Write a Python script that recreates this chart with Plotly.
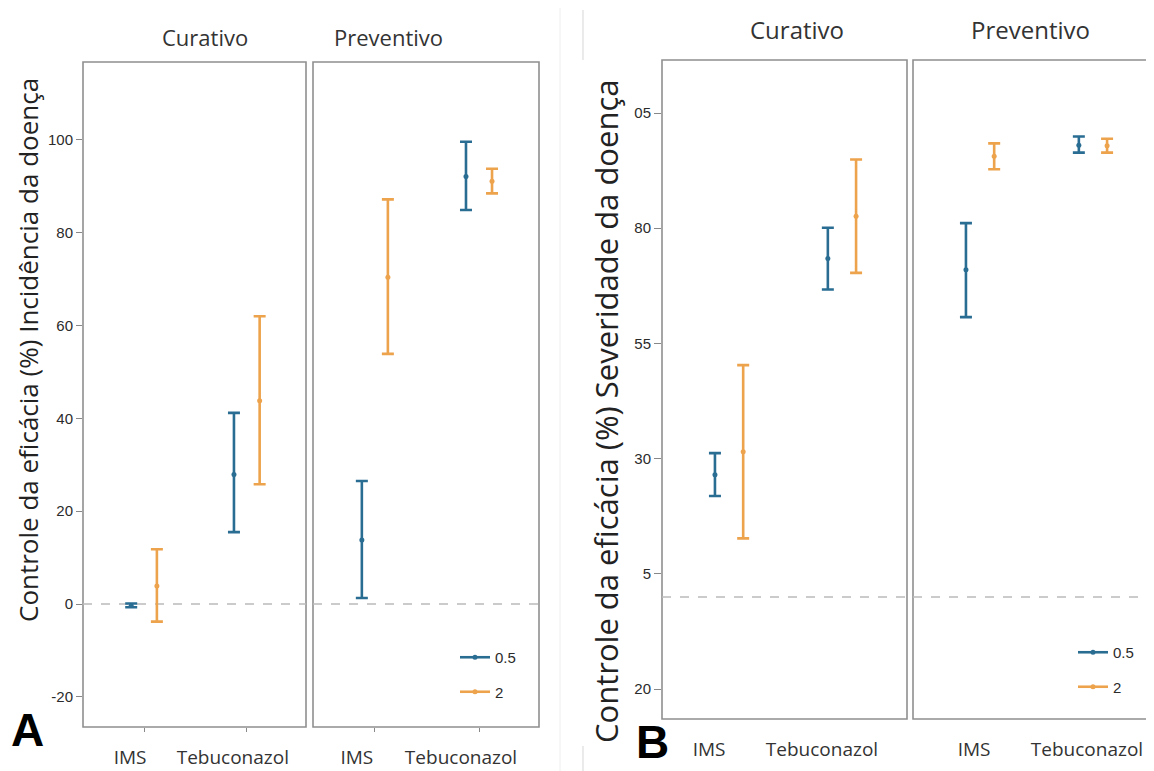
import plotly.graph_objects as go

# page body adds an 8px margin; figure is sized/positioned to compensate
OFF = 8
W, H = 1154 - OFF, 771 - OFF

categories = ["IMS", "Tebuconazol"]
doses = ["0.5", "2"]
facets = ["Curativo", "Preventivo"]

# Panel A - Incidência
inc_cur_05_mean = [-0.3, 27.9]
inc_cur_05_low = [-0.7, 15.5]
inc_cur_05_high = [0.1, 41.2]
inc_cur_2_mean = [3.9, 43.8]
inc_cur_2_low = [-3.8, 25.8]
inc_cur_2_high = [11.8, 62.0]
inc_pre_05_mean = [13.8, 92.1]
inc_pre_05_low = [1.3, 84.9]
inc_pre_05_high = [26.5, 99.6]
inc_pre_2_mean = [70.4, 91.1]
inc_pre_2_low = [53.9, 88.5]
inc_pre_2_high = [87.2, 93.8]

# Panel B - Severidade
sev_cur_05_mean = [26.5, 73.4]
sev_cur_05_low = [21.9, 66.7]
sev_cur_05_high = [31.2, 80.1]
sev_cur_2_mean = [31.5, 82.6]
sev_cur_2_low = [12.7, 70.3]
sev_cur_2_high = [50.3, 94.9]
sev_pre_05_mean = [71.0, 98.0]
sev_pre_05_low = [60.7, 96.4]
sev_pre_05_high = [81.1, 99.9]
sev_pre_2_mean = [95.6, 97.9]
sev_pre_2_low = [92.8, 96.4]
sev_pre_2_high = [98.4, 99.4]

inc_ticks = [-20, 0, 20, 40, 60, 80, 100]
inc_ticktext = ["-20", "0", "20", "40", "60", "80", "100"]
sev_ticks = [-20, 5, 30, 55, 80, 105]
sev_ticktext = ["20", "5", "30", "55", "80", "05"]

colors = {"0.5": "#2A6D93", "2": "#EDA24C"}

def px_x(v):
    return (v - OFF) / W

def px_y(v):
    return 1 - (v - OFF) / H

fig = go.Figure()

def add_series(ax, mean, low, high, dose):
    xa = "x" if ax == 1 else f"x{ax}"
    ya = "y" if ax == 1 else f"y{ax}"
    fig.add_trace(go.Scatter(
        x=categories, y=mean, xaxis=xa, yaxis=ya,
        mode="markers", offsetgroup=dose, showlegend=False,
        marker=dict(color=colors[dose], size=5),
        error_y=dict(type="data", symmetric=False,
                     array=[h - m for h, m in zip(high, mean)],
                     arrayminus=[m - l for m, l in zip(mean, low)],
                     color=colors[dose], thickness=2.6, width=6),
    ))

add_series(1, inc_cur_05_mean, inc_cur_05_low, inc_cur_05_high, "0.5")
add_series(1, inc_cur_2_mean, inc_cur_2_low, inc_cur_2_high, "2")
add_series(2, inc_pre_05_mean, inc_pre_05_low, inc_pre_05_high, "0.5")
add_series(2, inc_pre_2_mean, inc_pre_2_low, inc_pre_2_high, "2")
add_series(3, sev_cur_05_mean, sev_cur_05_low, sev_cur_05_high, "0.5")
add_series(3, sev_cur_2_mean, sev_cur_2_low, sev_cur_2_high, "2")
add_series(4, sev_pre_05_mean, sev_pre_05_low, sev_pre_05_high, "0.5")
add_series(4, sev_pre_2_mean, sev_pre_2_low, sev_pre_2_high, "2")

# legend entries (line with dot)
for ax, leg in [(2, "legend"), (4, "legend2")]:
    for dose in doses:
        fig.add_trace(go.Scatter(
            x=[None], y=[None], xaxis=f"x{ax}", yaxis=f"y{ax}",
            mode="lines+markers", name=dose, legend=leg,
            legendgroup=f"{leg}_{dose}", offsetgroup=dose,
            line=dict(color=colors[dose], width=2.6),
            marker=dict(color=colors[dose], size=5),
        ))

cat_range = [-0.594, 1.576]
cat_range_b4 = [-0.594, -0.594 + 2.17 * 241 / 245]

tickfont = dict(family="Liberation Sans", size=15, color="#2b2b2b")
xfont = dict(family="Open Sans", size=19, color="#333333")

dom_a_y = [px_y(727), px_y(62)]
dom_b_y = [px_y(719), px_y(60)]
a_range = [-26.5, 116.8]
b_range = [-26.5, 116.5]

def xaxis(dom, rng, ticks, shift):
    return dict(domain=[px_x(dom[0]), min(1.0, px_x(dom[1]))], type="category", range=rng,
                showgrid=False, zeroline=False, showline=False,
                ticks=ticks, ticklen=4, tickcolor="#888888",
                tickfont=xfont, ticklabelstandoff=9, ticklabelshift=shift,
                fixedrange=True)

fig.update_layout(
    width=W, height=H, margin=dict(l=0, r=0, t=0, b=0),
    paper_bgcolor="white", plot_bgcolor="white",
    scattermode="group", scattergap=0.5,
    xaxis=xaxis((83, 306), cat_range, "outside", -14),
    xaxis2=xaxis((313, 539), cat_range, "outside", -18),
    xaxis3=xaxis((662, 907), cat_range, "", -20),
    xaxis4=xaxis((913, 1154), cat_range_b4, "", -6),
    yaxis=dict(domain=dom_a_y, range=a_range, tickvals=inc_ticks, ticktext=inc_ticktext,
               ticks="outside", ticklen=6, tickcolor="#888888", tickfont=tickfont,
               showgrid=False, zeroline=False, showline=False, anchor="x"),
    yaxis2=dict(domain=dom_a_y, range=a_range, showticklabels=False, showgrid=False,
                zeroline=False, showline=False, anchor="x2"),
    yaxis3=dict(domain=dom_b_y, range=b_range, tickvals=sev_ticks, ticktext=sev_ticktext,
                ticks="outside", ticklen=7, tickcolor="#888888", tickfont=tickfont,
                showgrid=False, zeroline=False, showline=False, anchor="x3"),
    yaxis4=dict(domain=dom_b_y, range=b_range, showticklabels=False, showgrid=False,
                zeroline=False, showline=False, anchor="x4"),
    legend=dict(x=px_x(455), y=px_y(641), xanchor="left", yanchor="top",
                bgcolor="rgba(0,0,0,0)", font=dict(family="Liberation Sans", size=15, color="#2b2b2b"),
                traceorder="grouped", tracegroupgap=12, itemwidth=30),
    legend2=dict(x=px_x(1073), y=px_y(636), xanchor="left", yanchor="top",
                 bgcolor="rgba(0,0,0,0)", font=dict(family="Liberation Sans", size=15, color="#2b2b2b"),
                 traceorder="grouped", tracegroupgap=12, itemwidth=30),
    showlegend=True,
)

shapes = []
# facet boxes
for xa, ya, x1 in [("x", "y", 1), ("x2", "y2", 1), ("x3", "y3", 1), ("x4", "y4", 245 / 241)]:
    shapes.append(dict(type="rect", xref=f"{xa} domain", yref=f"{ya} domain",
                       x0=0, x1=x1, y0=0, y1=1, line=dict(color="#8f8f8f", width=1.6),
                       layer="below"))
# reference line at 0
for xa, ya in [("x", "y"), ("x2", "y2"), ("x3", "y3"), ("x4", "y4")]:
    shapes.append(dict(type="line", xref=f"{xa} domain", yref=ya, x0=0, x1=1, y0=0, y1=0,
                       line=dict(color="#bbbbbb", width=1.5, dash="dash"), layer="below"))
# faint panel separators
shapes.append(dict(type="line", xref="paper", yref="paper", x0=px_x(560), x1=px_x(560),
                   y0=px_y(8), y1=px_y(771), line=dict(color="#eeeeee", width=1)))
shapes.append(dict(type="line", xref="paper", yref="paper", x0=px_x(583), x1=px_x(583),
                   y0=px_y(10), y1=px_y(60), line=dict(color="#dddddd", width=1.2)))
shapes.append(dict(type="line", xref="paper", yref="paper", x0=px_x(583), x1=px_x(583),
                   y0=px_y(746), y1=px_y(771), line=dict(color="#dddddd", width=1.2)))
fig.update_layout(shapes=shapes)

ann = []
def text(x, y, s, size, family="Open Sans", color="#333333", angle=0, bold=False):
    ann.append(dict(x=px_x(x), y=px_y(y), xref="paper", yref="paper", text=f"<b>{s}</b>" if bold else s,
                    showarrow=False, textangle=angle, xanchor="center", yanchor="middle",
                    font=dict(family=family, size=size, color=color)))

text(205, 37, facets[0], 22)
text(388, 37, facets[1], 22)
text(797, 29, facets[0], 24)
text(1030, 30, facets[1], 24)
text(28, 350, "Controle da eficácia (%) Incidência da doença", 26, color="#222222", angle=-90)
text(606, 411, "Controle da eficácia (%) Severidade da doença", 31, color="#222222", angle=-90)
text(27, 730, "A", 46, family="Liberation Sans", color="#000000", bold=True)
text(652, 742, "B", 46, family="Liberation Sans", color="#000000", bold=True)
fig.update_layout(annotations=ann)

fig.write_html("out.html")
